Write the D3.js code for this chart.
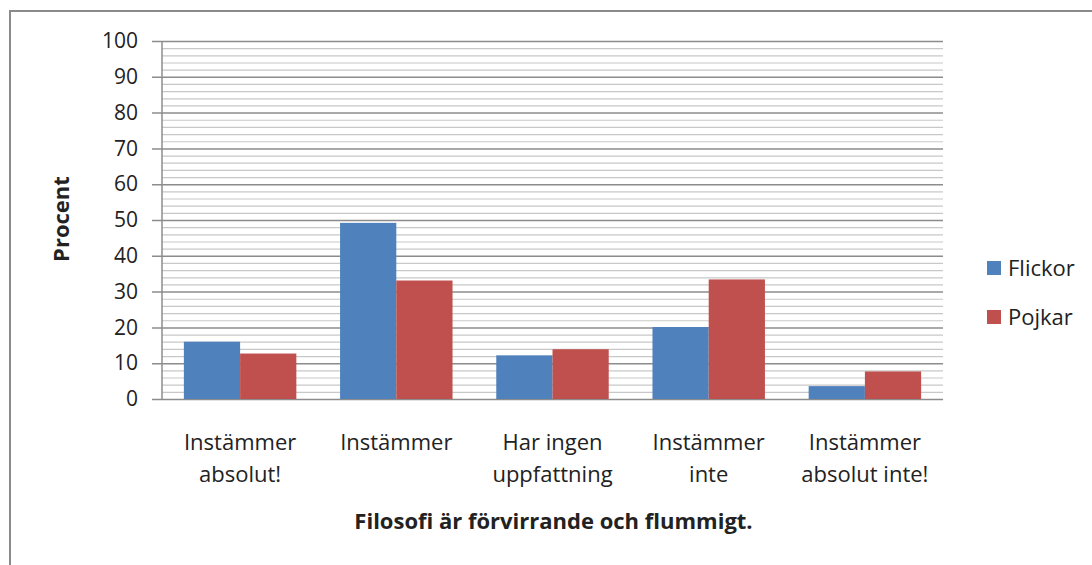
<!DOCTYPE html>
<html>
<head>
<meta charset="utf-8">
<script src="https://cdn.jsdelivr.net/npm/d3@7"></script>
<style>
  body { margin: 0; background: #fff; }
  text { font-family: "Open Sans", Lato, sans-serif; fill: #222; }
</style>
</head>
<body>
<div id="chart"></div>
<script>
var svgWidth = 1092;
var svgHeight = 565;

// data
var categories = [
  ["Instämmer", "absolut!"],
  ["Instämmer"],
  ["Har ingen", "uppfattning"],
  ["Instämmer", "inte"],
  ["Instämmer", "absolut inte!"]
];
var seriesNames = ["Flickor", "Pojkar"];
var flickor = [16, 49.2, 12.2, 20.1, 3.6];
var pojkar = [12.7, 33.1, 13.9, 33.4, 7.7];
var yTicks = [0, 10, 20, 30, 40, 50, 60, 70, 80, 90, 100];
var colors = ["#4f81bd", "#c0504d"];

var margin = { top: 41, right: 149, bottom: 166, left: 162 };
var width = svgWidth - margin.left - margin.right;
var height = svgHeight - margin.top - margin.bottom;

var svg = d3.select("#chart")
  .append("svg")
  .attr("width", svgWidth)
  .attr("height", svgHeight);

// outer frame (runs off the right and bottom edge)
svg.append("rect")
  .attr("x", 10).attr("y", 11)
  .attr("width", svgWidth + 20).attr("height", svgHeight + 20)
  .attr("fill", "none")
  .attr("stroke", "#8a8a8a")
  .attr("stroke-width", 2);

var chartGroup = svg.append("g")
  .attr("transform", `translate(${margin.left}, ${margin.top})`);

var yScale = d3.scaleLinear().domain([0, 100]).range([height, 0]);

var x0 = d3.scaleBand()
  .domain(d3.range(categories.length))
  .range([0, width])
  .paddingInner(0.28)
  .paddingOuter(0.14);

var x1 = d3.scaleBand()
  .domain(d3.range(seriesNames.length))
  .range([0, x0.bandwidth()]);

// minor gridlines every 2
chartGroup.append("g")
  .selectAll("line")
  .data(d3.range(0, 101, 2).filter(v => v % 10 !== 0))
  .enter()
  .append("line")
  .attr("x1", 0).attr("x2", width)
  .attr("y1", d => yScale(d) + 0.5).attr("y2", d => yScale(d) + 0.5)
  .attr("stroke", "#c8c8c8")
  .attr("stroke-width", 1.2);

// major gridlines + ticks
var leftAxis = d3.axisLeft(yScale)
  .tickValues(yTicks)
  .tickSize(width)
  .tickFormat(d3.format("d"));

var yAxisG = chartGroup.append("g")
  .attr("transform", `translate(${width}, 0)`)
  .call(leftAxis);
yAxisG.select(".domain").remove();
yAxisG.selectAll(".tick line")
  .attr("stroke", "#8c8c8c")
  .attr("stroke-width", 1.5)
  .attr("x1", 0)
  .attr("x2", -width - 10);
yAxisG.selectAll(".tick text")
  .attr("x", -width - 24)
  .attr("font-size", "21px")
  .attr("fill", "#222");

// y axis line
chartGroup.append("line")
  .attr("x1", 0).attr("x2", 0)
  .attr("y1", 0).attr("y2", height)
  .attr("stroke", "#8c8c8c")
  .attr("stroke-width", 1.5);

// bars
var rows = flickor.map((v, i) => [v, pojkar[i]]);
var groups = chartGroup.selectAll(".cat")
  .data(rows)
  .enter()
  .append("g")
  .attr("transform", (d, i) => `translate(${x0(i)}, 0)`);

groups.selectAll("rect")
  .data(d => d)
  .enter()
  .append("rect")
  .attr("x", (d, j) => x1(j))
  .attr("y", d => yScale(d))
  .attr("width", x1.bandwidth())
  .attr("height", d => height - yScale(d))
  .attr("fill", (d, j) => colors[j]);

// category labels
var catText = chartGroup.selectAll(".catlabel")
  .data(categories)
  .enter()
  .append("text")
  .attr("text-anchor", "middle")
  .attr("font-size", "22px")
  .attr("transform", (d, i) => `translate(${x0(i) + x0.bandwidth() / 2}, ${height + 51})`);

catText.selectAll("tspan")
  .data(d => d)
  .enter()
  .append("tspan")
  .attr("x", 0)
  .attr("dy", (d, k) => k === 0 ? 0 : 32)
  .text(d => d);

// axis titles
chartGroup.append("text")
  .attr("transform", `translate(${width / 2 + 1}, ${height + 130})`)
  .attr("text-anchor", "middle")
  .attr("font-size", "22px")
  .attr("font-weight", "bold")
  .attr("fill", "#111")
  .text("Filosofi är förvirrande och flummigt.");

chartGroup.append("text")
  .attr("transform", `rotate(-90)`)
  .attr("x", -(219 - margin.top))
  .attr("y", 69 - margin.left)
  .attr("text-anchor", "middle")
  .attr("font-size", "22px")
  .attr("font-weight", "bold")
  .attr("fill", "#111")
  .text("Procent");

// legend
var legend = svg.selectAll(".legend")
  .data(seriesNames)
  .enter()
  .append("g")
  .attr("transform", (d, i) => `translate(987, ${261 + i * 49})`);

legend.append("rect")
  .attr("width", 14).attr("height", 14)
  .attr("fill", (d, i) => colors[i]);

legend.append("text")
  .attr("x", 21).attr("y", 15)
  .attr("font-size", "22px")
  .text(d => d);
</script>
</body>
</html>
